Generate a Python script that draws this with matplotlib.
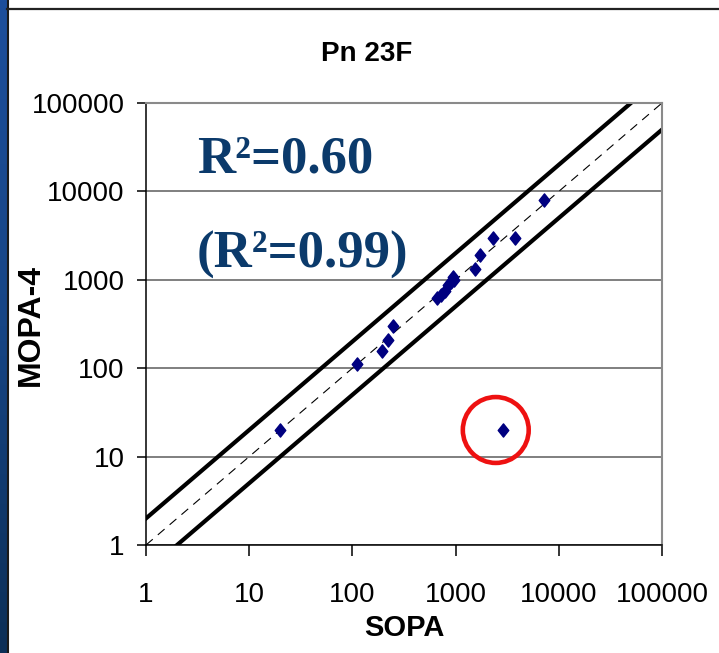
import numpy as np
import matplotlib
matplotlib.use("Agg")
import matplotlib.pyplot as plt
from matplotlib.path import Path

# SOPA vs MOPA-4 titres for serotype 23F
sopa = [20, 110, 195, 220, 250, 660, 720, 790, 850, 900, 940, 970,
        1540, 1720, 2300, 3800, 7200, 2900]
mopa = [20, 112, 158, 210, 300, 620, 680, 740, 870, 950, 1080, 1000,
        1315, 1910, 3000, 3000, 7900, 20]

outlier = (2450, 20)          # circled discordant sample
decades = [1, 10, 100, 1000, 10000, 100000]
decade_labels = ["1", "10", "100", "1000", "10000", "100000"]
band_factor = 2               # two-fold agreement band

W, H = 719, 653
fig = plt.figure(figsize=(W / 100, H / 100), dpi=100)

# blue slide strip on the left edge and the rule on top
strip = fig.add_axes([0, 0, 7 / W, 1])
grad = np.linspace(0, 1, 256).reshape(-1, 1)
strip.imshow(grad, aspect="auto", cmap=matplotlib.colors.LinearSegmentedColormap.from_list(
    "slide", ["#1d4f9c", "#174585", "#0c2f57"]), extent=[0, 1, 0, 1])
strip.axis("off")
fig.add_artist(plt.Line2D([7.5 / W, 7.5 / W], [0, 1], color="#1a1a1a", lw=1.5))
fig.add_artist(plt.Line2D([7 / W, 1], [1 - 8.5 / H, 1 - 8.5 / H], color="#222222", lw=1.6))

left, right, top, bottom = 146, 662, 103, 545
ax = fig.add_axes([left / W, 1 - bottom / H, (right - left) / W, (bottom - top) / H])
ax.set_xscale("log")
ax.set_yscale("log")
ax.set_xlim(1, 100000)
ax.set_ylim(1, 100000)

sans = ["Liberation Sans", "DejaVu Sans"]

ax.set_xticks(decades)
ax.set_xticklabels(decade_labels, family=sans, fontsize=20)
ax.set_yticks(decades)
ax.set_yticklabels(decade_labels, family=sans, fontsize=20)
ax.minorticks_off()
ax.tick_params(axis="x", length=8, width=1.1, pad=19, direction="out")
ax.tick_params(axis="y", length=6.5, width=1.1, pad=9, direction="out")

ax.yaxis.grid(True, color="#6a6a6a", lw=1.2)
ax.set_axisbelow(True)
for s in ("top", "right"):
    ax.spines[s].set_color("#8a8a8a")
    ax.spines[s].set_linewidth(1.5)
for s in ("left", "bottom"):
    ax.spines[s].set_color("black")
    ax.spines[s].set_linewidth(1.1)

# identity line and two-fold limits
line_x = np.array([1, 100000])
ax.plot(line_x, line_x, color="black", lw=0.8, ls=(0, (8, 6)))
ax.plot(line_x, line_x * band_factor, color="black", lw=3)
ax.plot(line_x, line_x / band_factor, color="black", lw=3)

diamond = Path([(0, 1), (0.8, 0), (0, -1), (-0.8, 0), (0, 1)],
               [Path.MOVETO, Path.LINETO, Path.LINETO, Path.LINETO, Path.CLOSEPOLY])
ax.plot(sopa, mopa, ls="none", marker=diamond, ms=9.5, color="#000080", zorder=5)

ax.scatter([outlier[0]], [outlier[1]], s=2250, facecolors="none",
           edgecolors="#ee1111", linewidths=3.3, zorder=6)

serif = dict(family=["Liberation Serif", "DejaVu Serif"], weight="bold",
             color="#0b3a6b", fontsize=38, transform=ax.transAxes)
ax.text(0.099, 0.842, "R²=0.60", ha="left", va="baseline", **serif)
ax.text(0.099, 0.627, "(R²=0.99)", ha="left", va="baseline", **serif)

fig.text(366.5 / W, 1 - 54 / H, "Pn 23F", family=sans, weight="bold",
         fontsize=20, ha="center", va="center")
fig.text(404 / W, 1 - 628 / H, "SOPA", family=sans, weight="bold",
         fontsize=21, ha="center", va="center")
fig.text(31 / W, 1 - 325 / H, "MOPA-4", family=sans,
         weight="bold", fontsize=23, rotation=90, ha="center", va="center")

fig.savefig("out.png", dpi=100)
